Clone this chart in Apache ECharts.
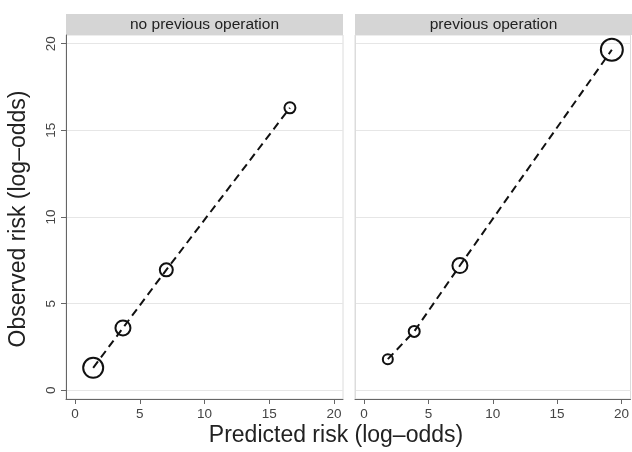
<!DOCTYPE html>
<html>
<head>
<meta charset="utf-8">
<script src="https://cdn.jsdelivr.net/npm/echarts@6/dist/echarts.min.js"></script>
<style>
html,body{margin:0;padding:0;background:#fff;}
#chart{width:632px;height:452px;}
</style>
</head>
<body>
<div id="chart"></div>
<script>
// ---- data ----
const panelTitles = ['no previous operation', 'previous operation'];
const predictedNoPrev = [1.4, 3.7, 7.05, 16.6];
const observedNoPrev = [1.3, 3.6, 6.95, 16.3];
const weightNoPrev = [20, 15, 13, 11];
const predictedPrev = [1.85, 3.9, 7.45, 19.25];
const observedPrev = [1.8, 3.4, 7.2, 19.65];
const weightPrev = [10, 11, 15, 22];
const xTicks = [0, 5, 10, 15, 20];
const yTicks = [0, 5, 10, 15, 20];
const xTitle = 'Predicted risk (log\u2013odds)';
const yTitle = 'Observed risk (log\u2013odds)';

const FONT = 'Liberation Sans, Arial, Helvetica, sans-serif';
const panels = [
  {left: 66, width: 277},
  {left: 355, width: 277}
];
const TOP = 35, HEIGHT = 364;

function pts(xs, ys, ws) {
  return xs.map((x, i) => ({value: [x, ys[i]], symbolSize: ws[i]}));
}

const chart = echarts.init(document.getElementById('chart'), null, {renderer: 'canvas'});

const grids = panels.map(p => ({left: p.left, top: TOP, width: p.width, height: HEIGHT,
  show: true, borderColor: '#dcdcdc', borderWidth: 1, backgroundColor: '#fff', containLabel: false}));

const xAxes = panels.map((p, i) => ({
  type: 'value', gridIndex: i, min: -0.7, max: 20.7,
  axisLine: {show: true, onZero: false, lineStyle: {color: '#666', width: 1}},
  axisTick: {show: true, length: 5, lineStyle: {color: '#666'}, customValues: xTicks},
  axisLabel: {show: true, customValues: xTicks, color: '#444', fontSize: 13.5, fontFamily: FONT, margin: 8},
  splitLine: {show: false}
}));

const yAxes = panels.map((p, i) => ({
  type: 'value', gridIndex: i, min: -0.5, max: 20.5,
  axisLine: {show: true, onZero: false, lineStyle: {color: i === 0 ? '#666' : '#dcdcdc', width: 1}},
  axisTick: {show: i === 0, length: 5, lineStyle: {color: '#666'}, customValues: yTicks},
  axisLabel: {show: i === 0, customValues: yTicks, rotate: 90, color: '#444', fontSize: 13.5, fontFamily: FONT, margin: 8},
  splitLine: {show: true, lineStyle: {color: '#e6e6e6', width: 1}}
}));

function makeSeries(i, data) {
  return {
    type: 'line', xAxisIndex: i, yAxisIndex: i, data: data,
    symbol: 'circle', showSymbol: true, showAllSymbol: true,
    lineStyle: {color: '#111', width: 2, type: [8, 5]},
    itemStyle: {color: 'rgba(0,0,0,0)', borderColor: '#111', borderWidth: 2},
    emphasis: {disabled: true}, animation: false, z: 3
  };
}

const graphics = [];
panels.forEach((p, i) => {
  graphics.push({type: 'rect', left: p.left, top: 14, shape: {width: p.width, height: 21},
    style: {fill: '#d5d5d5'}, silent: true});
  graphics.push({type: 'text', x: p.left + p.width / 2, y: 24.5,
    style: {text: panelTitles[i], font: '15.5px ' + FONT, fill: '#222', align: 'center', verticalAlign: 'middle'}});
});
graphics.push({type: 'text', x: 336, y: 436,
  style: {text: xTitle, font: '23px ' + FONT, fill: '#222', align: 'center', verticalAlign: 'middle'}});
graphics.push({type: 'text', x: 19, y: 219, rotation: Math.PI / 2,
  style: {text: yTitle, font: '23px ' + FONT, fill: '#222', align: 'center', verticalAlign: 'middle'}});

chart.setOption({
  animation: false,
  backgroundColor: '#fff',
  grid: grids,
  xAxis: xAxes,
  yAxis: yAxes,
  series: [
    makeSeries(0, pts(predictedNoPrev, observedNoPrev, weightNoPrev)),
    makeSeries(1, pts(predictedPrev, observedPrev, weightPrev))
  ],
  graphic: graphics
});
</script>
</body>
</html>
